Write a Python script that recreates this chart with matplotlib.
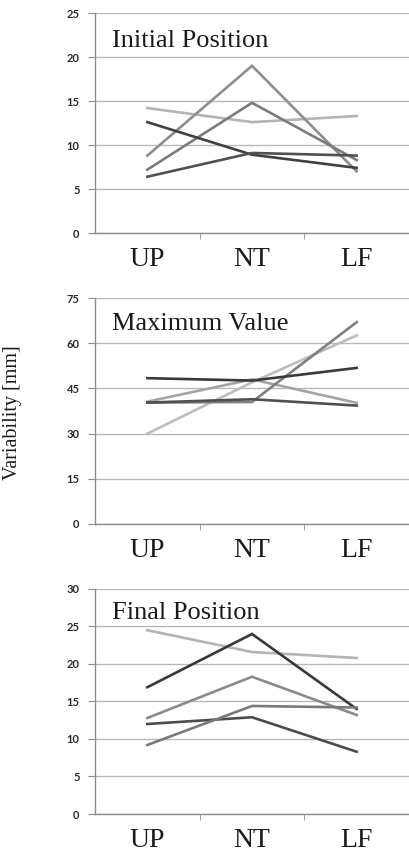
import matplotlib
matplotlib.use('Agg')
import matplotlib.pyplot as plt

# conditions on the x axis
conditions = ['UP', 'NT', 'LF']

# variability per subject, initial position
initial_vals = [
    [14.2, 12.6, 13.3],
    [8.8, 19.0, 7.0],
    [7.2, 14.8, 8.3],
    [12.6, 8.9, 7.4],
    [6.4, 9.1, 8.8],
]

# variability per subject, maximum value
maximum_vals = [
    [30.0, 47.0, 62.6],
    [40.6, 48.0, 40.2],
    [40.3, 40.5, 67.0],
    [40.3, 41.4, 39.3],
    [48.4, 47.6, 51.8],
]

# variability per subject, final position
final_vals = [
    [24.5, 21.6, 20.8],
    [16.9, 24.0, 14.0],
    [12.8, 18.3, 13.2],
    [12.0, 12.9, 8.3],
    [9.2, 14.4, 14.2],
]

panels = [
    ('Initial Position', initial_vals, 25, 5,
     ['#b4b4b4', '#8e8e8e', '#7c7c7c', '#404040', '#505050'], 0.847),
    ('Maximum Value', maximum_vals, 75, 15,
     ['#bdbdbd', '#a4a4a4', '#808080', '#505050', '#3a3a3a'], 0.858),
    ('Final Position', final_vals, 30, 5,
     ['#b4b4b4', '#383838', '#8a8a8a', '#4c4c4c', '#7a7a7a'], 0.865),
]

fig = plt.figure(figsize=(4.09, 8.52), dpi=100)

# axes boxes in figure fractions: (bottom, top)
boxes = [(0.7265, 0.9847), (0.385, 0.6502), (0.0446, 0.3087)]
left = 0.2323

for (title, vals, ymax, step, colors, ty), (b, t) in zip(panels, boxes):
    ax = fig.add_axes([left, b, 1.0 - left, t - b])
    x = range(len(conditions))
    for v, c in zip(vals, colors):
        ax.plot(x, v, color=c, lw=1.9, solid_joinstyle='miter', zorder=3)

    ax.set_xlim(-0.5, 2.5)
    ax.set_ylim(0, ymax)
    ax.set_yticks(range(0, ymax + 1, step))
    ax.grid(axis='y', color='#b8b8b8', lw=1.0, zorder=0)
    ax.set_axisbelow(True)

    ax.set_xticks(list(x))
    ax.set_xticklabels(conditions, fontsize=20, family='Liberation Serif',
                       color='#1a1a1a')
    ax.tick_params(axis='x', which='major', length=0, pad=10)
    ax.set_xticks([0.5, 1.5], minor=True)
    ax.tick_params(axis='x', which='minor', length=4, color='#8c8c8c')
    ax.tick_params(axis='y', length=5, color='#8c8c8c', pad=6,
                   labelsize=8, labelcolor='#2a2a2a')
    for lab in ax.get_yticklabels():
        lab.set_fontfamily('Lato')
        lab.set_fontweight('bold')

    for s in ['top', 'right']:
        ax.spines[s].set_visible(False)
    for s in ['left', 'bottom']:
        ax.spines[s].set_color('#8c8c8c')
        ax.spines[s].set_linewidth(1.0)

    ax.text(0.054, ty, title, transform=ax.transAxes, fontsize=19,
            family='Liberation Serif', color='#1a1a1a', va='baseline')

fig.text(0.03, 0.516, 'Variability [mm]', rotation=90, ha='center',
         va='center', fontsize=14.5, family='Liberation Serif',
         color='#1a1a1a')

fig.savefig('out.png', dpi=100, facecolor='white')
